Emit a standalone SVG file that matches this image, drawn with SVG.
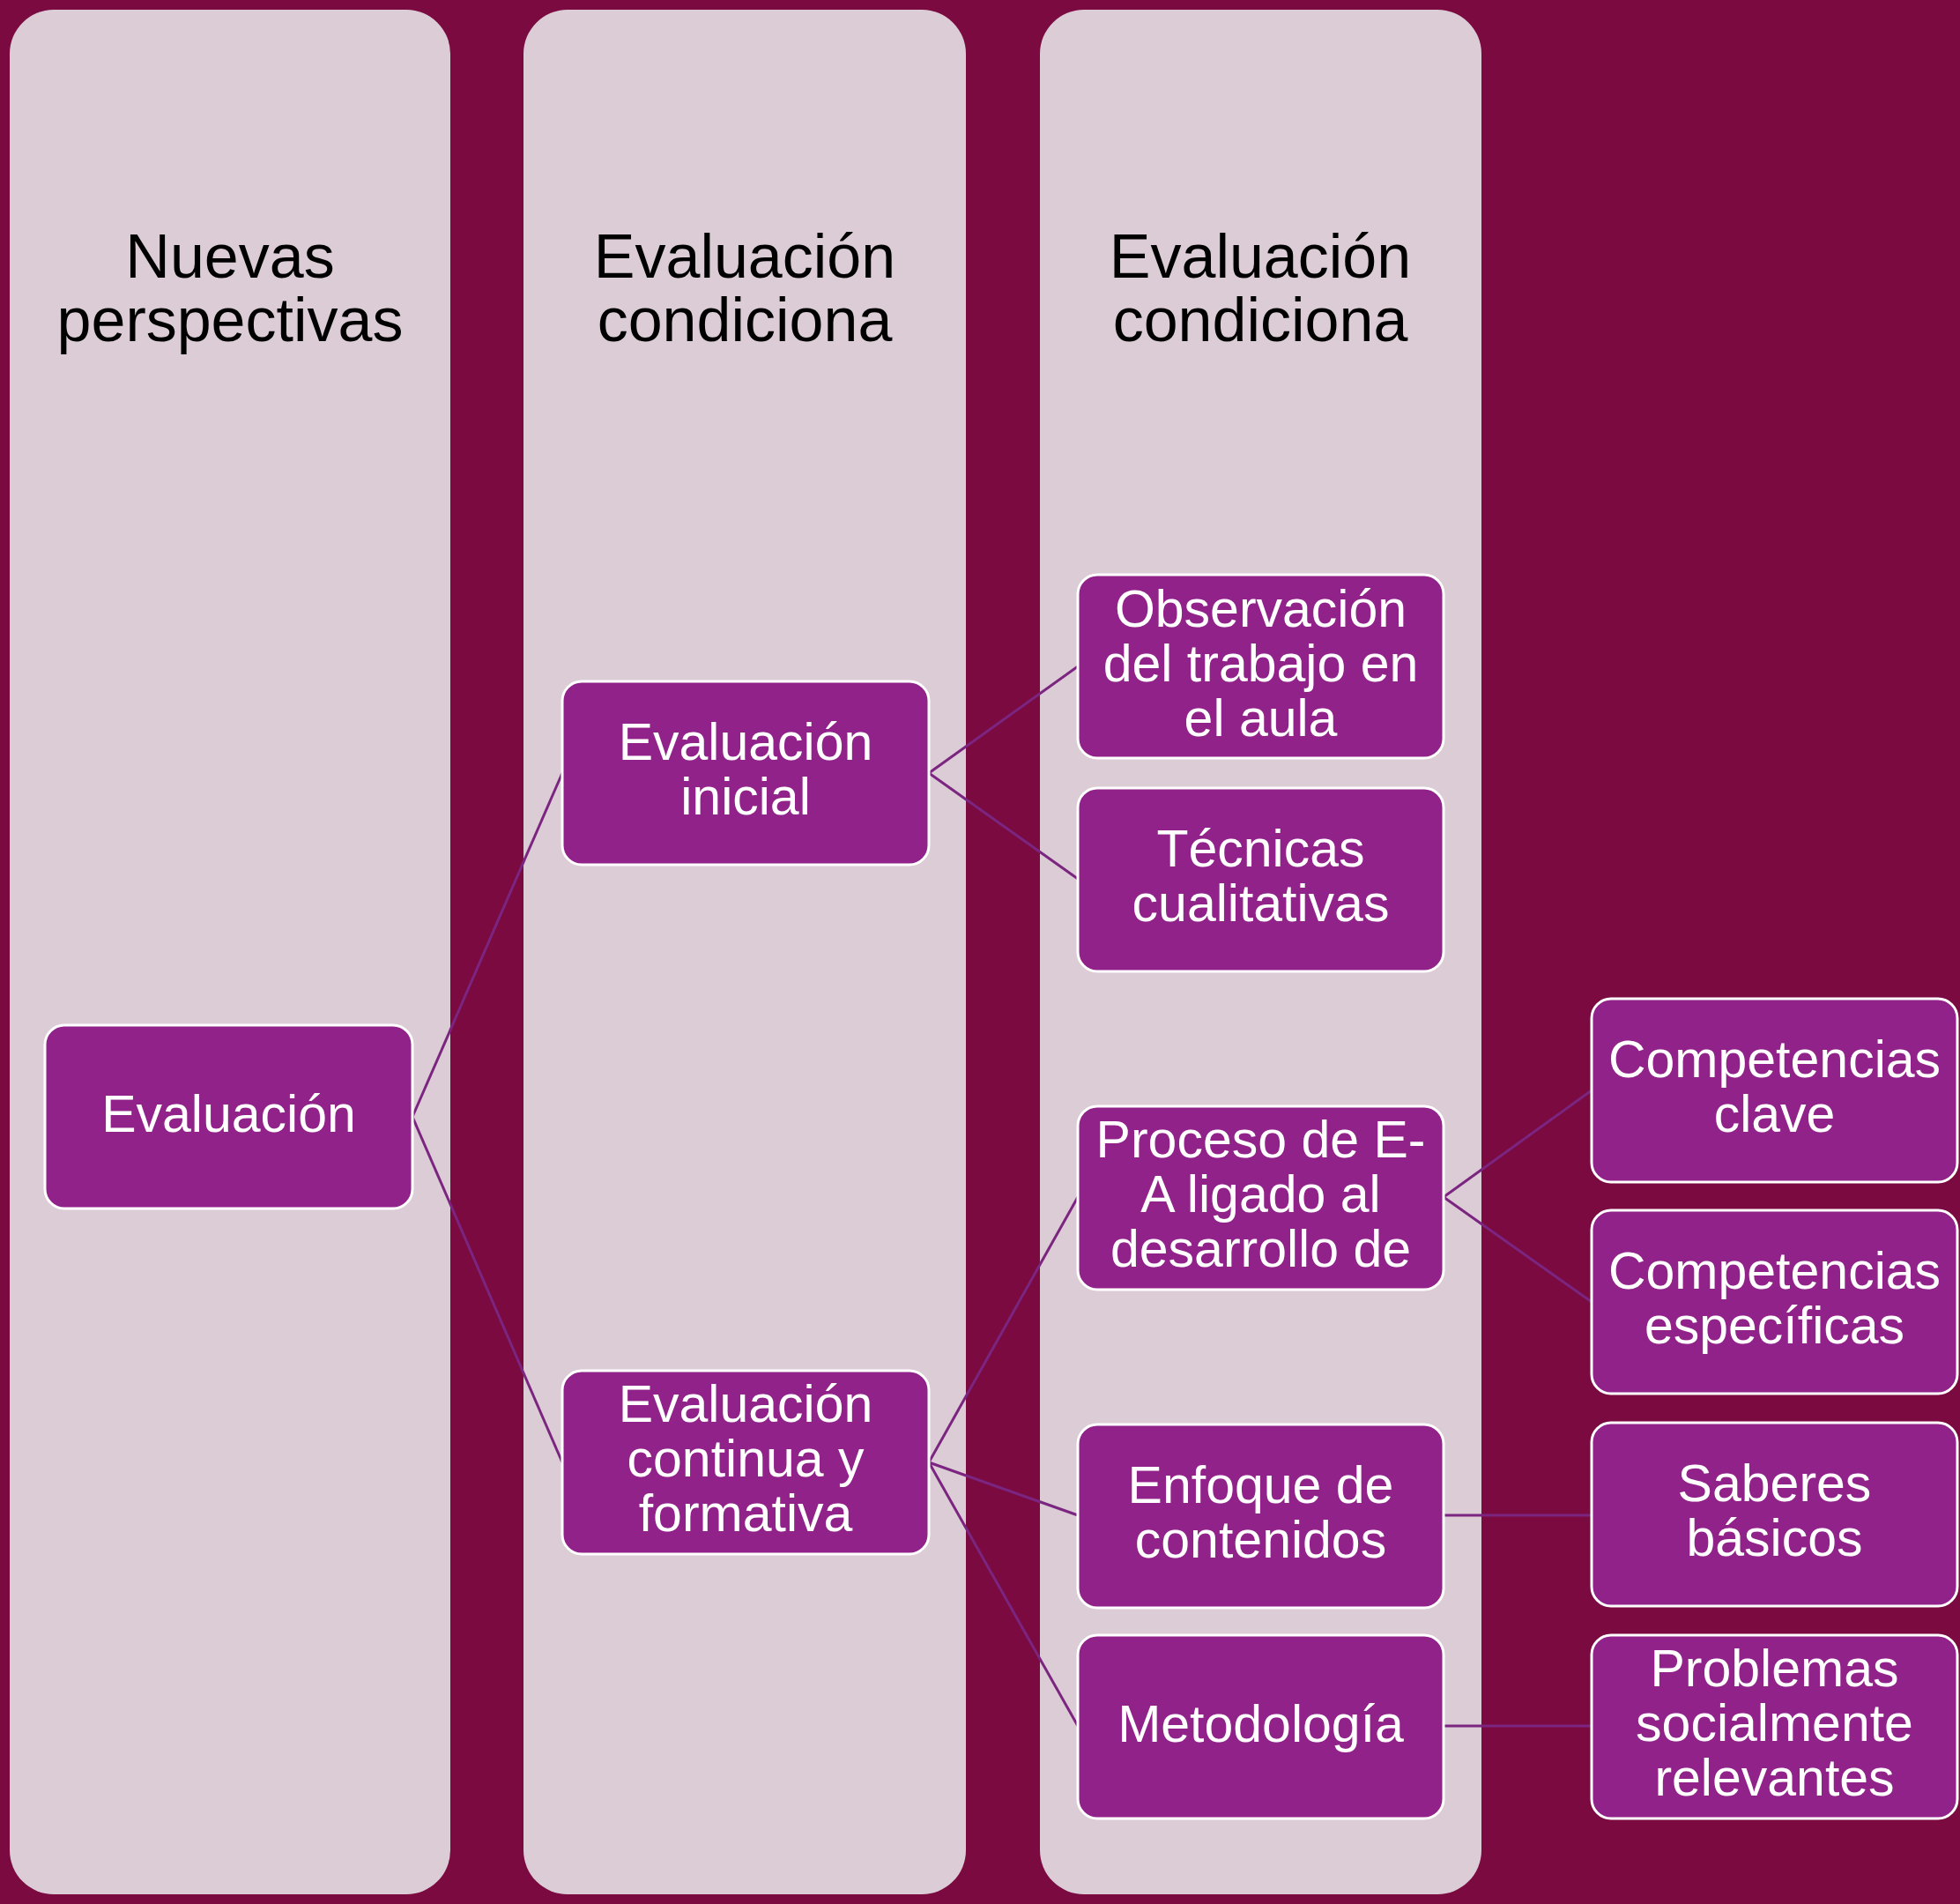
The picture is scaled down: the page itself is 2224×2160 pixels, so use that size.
<svg xmlns="http://www.w3.org/2000/svg" width="2224" height="2160" viewBox="0 0 2224 2160">
<style>
.bg{fill:#7A0A40}
.panel{fill:#DCCCD6}
.node{fill:#912289;stroke:#FFFFFF;stroke-width:3}
.hdr{font-family:"Liberation Sans",Arial,sans-serif;font-size:70px;fill:#000000;text-anchor:middle}
.lbl{font-family:"Liberation Sans",Arial,sans-serif;font-size:59px;fill:#FFFFFF;text-anchor:middle}
.conn{stroke:#7B2580;stroke-width:3;fill:none}
</style>
<rect class="bg" x="0" y="0" width="2224" height="2160"/>
<g id="panels">
<g id="panel1"><rect class="panel" x="11" y="11" width="500" height="2138" rx="50" ry="50"/>
<text class="hdr"><tspan x="261" y="315">Nuevas</tspan><tspan x="261" y="387">perspectivas</tspan></text></g>
<g id="panel2"><rect class="panel" x="594" y="11" width="502" height="2138" rx="50" ry="50"/>
<text class="hdr"><tspan x="845" y="315">Evaluación</tspan><tspan x="845" y="387">condiciona</tspan></text></g>
<g id="panel3"><rect class="panel" x="1180" y="11" width="501" height="2138" rx="50" ry="50"/>
<text class="hdr"><tspan x="1430" y="315">Evaluación</tspan><tspan x="1430" y="387">condiciona</tspan></text></g>
</g>
<g id="connectors">
<line class="conn" x1="468" y1="1267" x2="638" y2="877"/>
<line class="conn" x1="468" y1="1267" x2="638" y2="1659"/>
<line class="conn" x1="1054" y1="877" x2="1223" y2="756"/>
<line class="conn" x1="1054" y1="877" x2="1223" y2="997"/>
<line class="conn" x1="1054" y1="1659" x2="1223" y2="1358"/>
<line class="conn" x1="1054" y1="1659" x2="1223" y2="1719"/>
<line class="conn" x1="1054" y1="1659" x2="1223" y2="1958"/>
<line class="conn" x1="1638" y1="1358" x2="1806" y2="1237"/>
<line class="conn" x1="1638" y1="1358" x2="1806" y2="1477"/>
<line class="conn" x1="1638" y1="1719" x2="1806" y2="1719"/>
<line class="conn" x1="1638" y1="1958" x2="1806" y2="1958"/>
</g>
<g id="n-evaluacion"><rect class="node" x="51" y="1163" width="417" height="208" rx="22"/>
<text class="lbl"><tspan x="259.5" y="1284">Evaluación</tspan></text></g>
<g id="n-inicial"><rect class="node" x="638" y="773" width="416" height="208" rx="22"/>
<text class="lbl"><tspan x="846" y="862">Evaluación</tspan><tspan x="846" y="924">inicial</tspan></text></g>
<g id="n-continua"><rect class="node" x="638" y="1555" width="416" height="208" rx="22"/>
<text class="lbl"><tspan x="846" y="1613">Evaluación</tspan><tspan x="846" y="1675">continua y</tspan><tspan x="846" y="1737">formativa</tspan></text></g>
<g id="n-observacion"><rect class="node" x="1223" y="652" width="415" height="208" rx="22"/>
<text class="lbl"><tspan x="1430.5" y="711">Observación</tspan><tspan x="1430.5" y="773">del trabajo en</tspan><tspan x="1430.5" y="835">el aula</tspan></text></g>
<g id="n-tecnicas"><rect class="node" x="1223" y="894" width="415" height="208" rx="22"/>
<text class="lbl"><tspan x="1430.5" y="983">Técnicas</tspan><tspan x="1430.5" y="1045">cualitativas</tspan></text></g>
<g id="n-proceso"><rect class="node" x="1223" y="1255" width="415" height="208" rx="22"/>
<text class="lbl"><tspan x="1430.5" y="1313">Proceso de E-</tspan><tspan x="1430.5" y="1375">A ligado al</tspan><tspan x="1430.5" y="1437">desarrollo de</tspan></text></g>
<g id="n-enfoque"><rect class="node" x="1223" y="1616" width="415" height="208" rx="22"/>
<text class="lbl"><tspan x="1430.5" y="1705">Enfoque de</tspan><tspan x="1430.5" y="1767">contenidos</tspan></text></g>
<g id="n-metodologia"><rect class="node" x="1223" y="1855" width="415" height="208" rx="22"/>
<text class="lbl"><tspan x="1430.5" y="1976">Metodología</tspan></text></g>
<g id="n-clave"><rect class="node" x="1806" y="1133" width="415" height="208" rx="22"/>
<text class="lbl"><tspan x="2013.5" y="1222">Competencias</tspan><tspan x="2013.5" y="1284">clave</tspan></text></g>
<g id="n-especificas"><rect class="node" x="1806" y="1373" width="415" height="208" rx="22"/>
<text class="lbl"><tspan x="2013.5" y="1462">Competencias</tspan><tspan x="2013.5" y="1524">específicas</tspan></text></g>
<g id="n-saberes"><rect class="node" x="1806" y="1614" width="415" height="208" rx="22"/>
<text class="lbl"><tspan x="2013.5" y="1703">Saberes</tspan><tspan x="2013.5" y="1765">básicos</tspan></text></g>
<g id="n-problemas"><rect class="node" x="1806" y="1855" width="415" height="208" rx="22"/>
<text class="lbl"><tspan x="2013.5" y="1913">Problemas</tspan><tspan x="2013.5" y="1975">socialmente</tspan><tspan x="2013.5" y="2037">relevantes</tspan></text></g>
</svg>
